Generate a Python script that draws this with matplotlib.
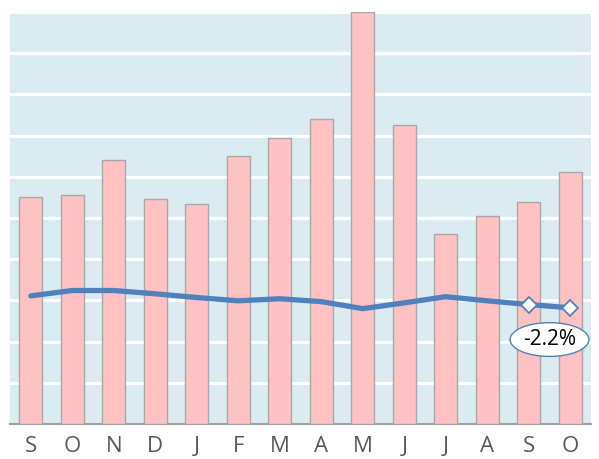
import matplotlib
matplotlib.use("Agg")
import matplotlib.pyplot as plt
import numpy as np
from matplotlib.patches import Ellipse

months = ["S", "O", "N", "D", "J", "F", "M", "A", "M", "J", "J", "A", "S", "O"]
bar_vals = [5.50, 5.55, 6.40, 5.47, 5.33, 6.50, 6.93, 7.40, 10.0, 7.25, 4.60, 5.06, 5.40, 6.11]
line_vals = [3.11, 3.24, 3.24, 3.16, 3.07, 2.99, 3.04, 2.97, 2.80, 2.94, 3.09, 2.99, 2.90, 2.82]
change_label = "-2.2%"

plt.rcParams['font.family'] = ['Open Sans', 'DejaVu Sans']

fig = plt.figure(figsize=(5.99, 4.59), dpi=100)
ax = fig.add_axes([10/599, 35/459, 581/599, 412/459])
ax.set_facecolor("#DAECF2")

x = np.arange(len(months))
ax.bar(x, bar_vals, width=0.55, color="#FFC1C1", edgecolor="#A8A8A8", linewidth=1.0, zorder=3)
ax.plot(x, line_vals, color="#4F81BD", linewidth=3.8, solid_capstyle="round",
        solid_joinstyle="round", zorder=4)
ax.plot(x[-2:], line_vals[-2:], linestyle="none", marker="D", markersize=8,
        markerfacecolor="white", markeredgecolor="#4F81BD", markeredgewidth=1.3, zorder=5)

# label bubble under the last point
ax.add_patch(Ellipse((x[-1] - 0.5, line_vals[-1] - 0.77), 1.9, 0.82,
                     facecolor="white", edgecolor="#4F81BD", linewidth=1.0, zorder=6))
ax.text(x[-1] - 0.5, line_vals[-1] - 0.77, change_label, ha="center", va="center",
        fontsize=15, color="black", zorder=7)

ax.set_xlim(-0.5, len(months) - 0.5)
ax.set_ylim(0, 10)
ax.set_yticks(np.arange(0, 11, 1))
ax.yaxis.grid(True, color="white", linewidth=2.2, zorder=1)
ax.set_axisbelow(True)
ax.tick_params(axis="y", left=False, labelleft=False)
ax.set_xticks(x)
ax.set_xticklabels(months, fontsize=16, color="#595959")
ax.tick_params(axis="x", length=0, pad=9)
for s in ["top", "right", "left"]:
    ax.spines[s].set_visible(False)
ax.spines["bottom"].set_color("#A0A0A0")
ax.spines["bottom"].set_linewidth(1.5)

fig.savefig("out.png", dpi=100)
